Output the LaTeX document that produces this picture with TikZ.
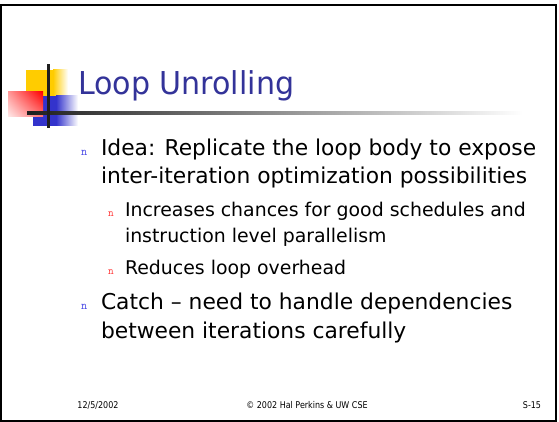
\documentclass[tikz,border=0pt]{standalone}
\usepackage{fontspec}
\usetikzlibrary{shadings}
\newfontfamily\bodyfont{DejaVu Sans}
\newfontfamily\headfont{DejaVu Sans}[FakeStretch=0.955]
\newfontfamily\footfont{DejaVu Sans}[FakeStretch=0.86]
\definecolor{titleblue}{RGB}{51,51,153}
\definecolor{bulletblue}{RGB}{72,72,230}
\definecolor{bulletred}{RGB}{255,51,51}
\definecolor{logoyellow}{RGB}{255,204,0}
\definecolor{logoblue}{RGB}{51,51,204}

\begin{document}
\begin{tikzpicture}[x=1pt,y=-1pt,
  txt/.style={anchor=base west, inner sep=0pt, outer sep=0pt},
  lvlone/.style={txt, font=\bodyfont\fontsize{21.8}{26}\selectfont},
  lvltwo/.style={txt, font=\bodyfont\fontsize{18.9}{22}\selectfont},
  bulone/.style={txt, text=bulletblue, font=\ttfamily\fontsize{12}{12}\selectfont},
  bultwo/.style={txt, text=bulletred, font=\ttfamily\fontsize{11}{11}\selectfont},
  foot/.style={anchor=base, inner sep=0pt, outer sep=0pt, font=\footfont\fontsize{9.3}{11}\selectfont},
  titletext/.style={txt, text=titleblue, font=\headfont\fontsize{31.5}{36}\selectfont},
]
\useasboundingbox (0,0) rectangle (559,422);
\fill[white] (0,0) rectangle (559,422);

% slide frame
\draw[line width=2.2pt] (1,5) rectangle (556,421);

% logo: yellow, blue and red blocks
\fill[logoyellow] (26,70) rectangle (53,96);
\shade[left color=logoyellow, right color=white] (53,70) rectangle (68,96);
\fill[logoblue] (33,96) rectangle (56,126);
\shade[left color=logoblue, right color=white] (56,96) rectangle (78,126);
\shade[upper left=red!40!white, upper right=red, lower left=red!8!white, lower right=red!55!white] (8,92) rectangle (43,117);

% title rules
\shade[left color=black!88, right color=white] (27,112) rectangle (523,114.5);
\fill[black!88] (47,64) rectangle (49.5,128);

% title
\node[titletext] (title) at (78,95) {Loop Unrolling};

% first bullet
\node[bulone] (b1) at (81,156) {n};
\node[lvlone] (l1a) at (101,156) {Idea: Replicate the loop body to expose};
\node[lvlone] (l1b) at (101,184) {inter-iteration optimization possibilities};

% sub bullets
\node[bultwo] (b2) at (108,216) {n};
\node[lvltwo] (l2a) at (125,216) {Increases chances for good schedules and};
\node[lvltwo] (l2b) at (125,242) {instruction level parallelism};
\node[bultwo] (b3) at (108,274) {n};
\node[lvltwo] (l3) at (125,274) {Reduces loop overhead};

% second bullet
\node[bulone] (b4) at (81,309) {n};
\node[lvlone] (l4a) at (101,309) {Catch – need to handle dependencies};
\node[lvlone] (l4b) at (101,338) {between iterations carefully};

% footer
\node[foot] (date) at (98,408) {12/5/2002};
\node[foot] (copy) at (307,408) {© 2002 Hal Perkins \& UW CSE};
\node[foot] (num) at (532,408) {S-15};
\end{tikzpicture}
\end{document}
